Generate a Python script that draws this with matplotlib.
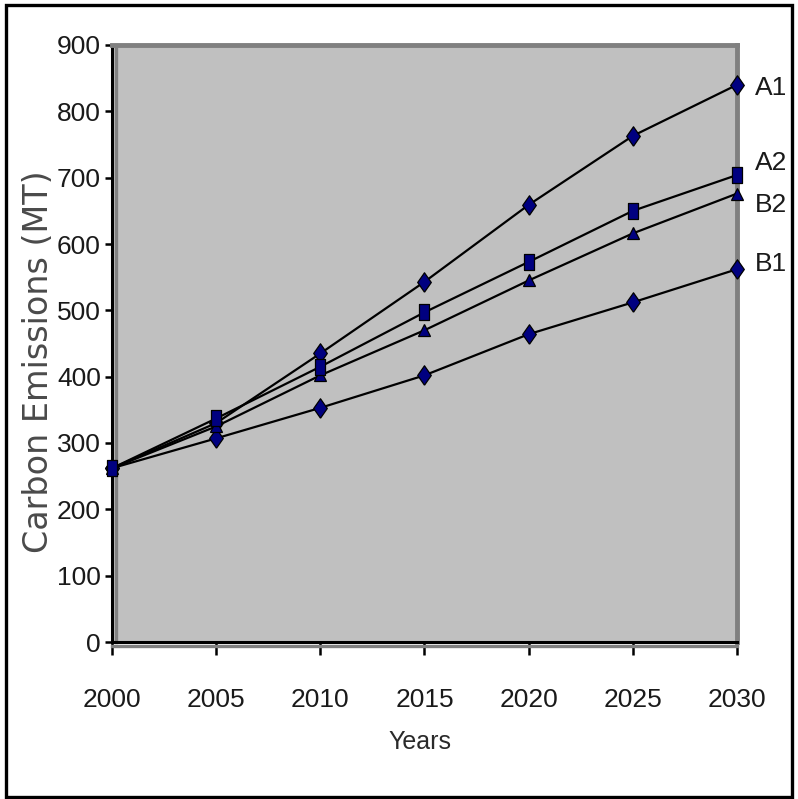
import matplotlib
matplotlib.use("Agg")
import matplotlib.pyplot as plt
from matplotlib.lines import Line2D
from matplotlib.patches import Rectangle
from matplotlib.transforms import offset_copy

# ---- data ---------------------------------------------------------------
years = [2000, 2005, 2010, 2015, 2020, 2025, 2030]
a1 = [262, 330, 435, 543, 659, 763, 840]
a2 = [262, 337, 415, 497, 573, 650, 704]
b2 = [262, 325, 402, 470, 545, 616, 676]
b1 = [262, 307, 353, 402, 464, 512, 562]
series_names = ["A1", "A2", "B2", "B1"]
y_ticks = list(range(0, 901, 100))

FONT = "Liberation Sans"
TICK_SIZE = 19

# tall box and tall diamond markers
tall_box = [(-0.62, -1.0), (0.62, -1.0), (0.62, 1.0), (-0.62, 1.0), (-0.62, -1.0)]
tall_diamond = [(0, -1.0), (0.7, 0), (0, 1.0), (-0.7, 0), (0, -1.0)]

fig = plt.figure(figsize=(7.98, 7.99), dpi=100)
ax = fig.add_axes([112 / 798, 1 - 642 / 799, 625 / 798, 597 / 799])
ax.set_facecolor("#C0C0C0")

line_kw = dict(color="black", lw=1.6, markerfacecolor="#000080",
               markeredgecolor="black", markeredgewidth=0.9, clip_on=False,
               zorder=3)
ax.plot(years, a1, marker=tall_diamond, markersize=14, **line_kw)
ax.plot(years, b1, marker=tall_diamond, markersize=14, **line_kw)
ax.plot(years, b2, marker="^", markersize=8.5, **line_kw)
ax.plot(years, a2, marker=tall_box, markersize=12, **line_kw)

ax.set_xlim(2000, 2030)
ax.set_ylim(0, 900)
ax.set_xticks(years)
ax.set_yticks(y_ticks)

for side in ("top", "right"):
    ax.spines[side].set_color("#808080")
    ax.spines[side].set_linewidth(3.5)
for side in ("left", "bottom"):
    ax.spines[side].set_color("black")
    ax.spines[side].set_linewidth(2.2)

# grey plot-area border showing beside the black axis lines
left_tr = offset_copy(ax.transAxes, fig=fig, x=3.5, y=0, units="dots")
bottom_tr = offset_copy(ax.transAxes, fig=fig, x=0, y=-3.5, units="dots")
ax.add_line(Line2D([0, 0], [0, 1], transform=left_tr, color="#808080",
                   lw=2.4, zorder=2.5, clip_on=False))
ax.add_line(Line2D([0, 1], [0, 0], transform=bottom_tr, color="#808080",
                   lw=2.4, zorder=2.5, clip_on=False))

ax.tick_params(axis="x", direction="out", length=9, width=1.8, pad=24,
               labelsize=TICK_SIZE, labelcolor="#1a1a1a")
ax.tick_params(axis="y", direction="out", length=5, width=1.8, pad=3,
               labelsize=TICK_SIZE, labelcolor="#1a1a1a")
for lab in ax.get_xticklabels() + ax.get_yticklabels():
    lab.set_family(FONT)

ax.set_xlabel("Years", family=FONT, fontsize=TICK_SIZE - 1, color="#2a2a2a")
ax.xaxis.set_label_coords(0.492, -0.1675)
ax.xaxis.label.set_va("center")
ax.set_ylabel("Carbon Emissions (MT)", family="DejaVu Sans", fontsize=24,
              color="#4a4a4a")
ax.yaxis.set_label_coords(-0.118, 0.469)
ax.yaxis.label.set_va("center")

# series names at the right-hand end of each line
end_vals = [a1[-1], a2[-1], b2[-1], b1[-1]]
nudges = [-2, 9, -8, 4]
for name, val, dy in zip(series_names, end_vals, nudges):
    ax.annotate(name, xy=(years[-1], val), xytext=(13, dy),
                textcoords="offset points", ha="left", va="center",
                family=FONT, fontsize=TICK_SIZE, color="#1a1a1a",
                annotation_clip=False)

# outer frame around the whole chart
fig.add_artist(Rectangle((6 / 798, 2 / 799), 786 / 798, 792 / 799,
                         transform=fig.transFigure, fill=False,
                         edgecolor="black", linewidth=2.4))

fig.savefig("out.png", dpi=100)
